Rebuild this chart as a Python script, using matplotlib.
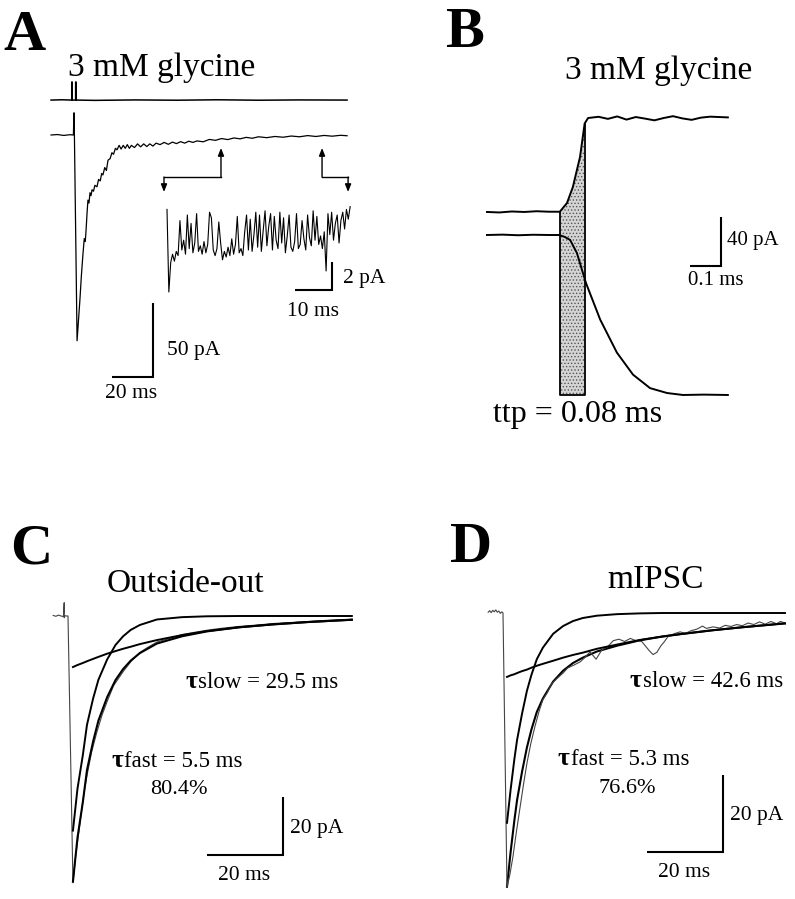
import numpy as np
import matplotlib
matplotlib.use('Agg')
import matplotlib.pyplot as plt

plt.rcParams['font.family'] = ['Liberation Serif', 'DejaVu Serif']
plt.rcParams['hatch.linewidth'] = 0.6

# ---- panel A: 3 mM glycine, outside-out patch (ms, pA) ----
ta_ex = [-11.2, -6.0, -1.1, -1.1, -0.9, -0.9, 0.8, 0.8, 1.0, 1.0, 10, 30, 50, 70, 90, 110, 133.2]
ya_ex = [23.6, 23.8, 23.6, 35.8, 35.8, 23.6, 23.6, 35.8, 35.8, 23.6, 23.4, 23.7, 23.5, 23.8, 23.5, 23.7, 23.6]

ta = [-11.2, -8.0, -5.0, -2.0, -0.3, 0.0, 0.2, 1.5, 2.2, 2.9,
      3.6, 4.4, 5.0, 5.5, 5.9, 6.4, 6.8, 7.3, 7.8, 8.3,
      8.8, 9.5, 10.2, 11.2, 12.0, 12.8, 13.5, 14.1, 15.0, 15.8,
      16.6, 17.6, 18.5, 19.3, 20.2, 21.0, 22.0, 23.0, 24.0, 25.0,
      26.0, 27.0, 28.0, 29.5, 31.0, 32.5, 34.0, 35.5, 37.0, 38.5,
      40.0, 42.0, 44.0, 46.0, 48.0, 50.0, 52.0, 54.0, 56.0, 58.0,
      60.0, 63.0, 66.0, 69.0, 72.0, 75.0, 78.0, 81.0, 84.0, 87.0,
      90.0, 94.0, 98.0, 102, 106, 110, 114, 118, 122, 126,
      130, 133.2]
ia = [0, 0.3, -0.3, 0.2, 0, 15, 0, -139, -125, -111,
      -95, -80, -70, -72, -64, -52, -44, -46, -39, -41,
      -37, -38, -34, -35, -30, -31, -26, -27, -22, -24,
      -17, -16, -12, -13, -9, -10, -7, -9.5, -7, -9,
      -6.5, -9, -7, -8.5, -6, -8, -6, -7.8, -6, -7.5,
      -5.5, -6.5, -5, -6.3, -4.8, -5.8, -4.5, -5.5, -4.2, -5,
      -4, -4.6, -3, -3.6, -2.4, -3.1, -2, -2.6, -1.6, -2.2,
      -1.2, -1.8, -1, -1.5, -0.7, -1.2, -0.4, -1, -0.3, -0.8,
      -0.2, -0.5]

# inset: single channel openings in the tail, sampled every 0.5 ms
inset_dt = 0.5
inset_i = [3.4, -2.5, -0.4, 0.2, -0.3, 0.4, 0.1, 2.6, 0.5, 1.2,
           0.2, 3.0, 0.6, 2.4, 0.3, 1.0, 3.1, 0.4, 0.8, 0.2,
           1.1, 0.3, 0.9, 3.2, 2.8, 0.5, 0.1, 0.6, 2.5, 1.0,
           -0.2, 0.4, 0.0, 0.7, 0.1, 1.3, 0.2, 0.9, 2.9, 0.3,
           0.6, 0.1, 1.8, 3.0, 0.5, 2.7, 0.4, 1.6, 3.2, 0.7,
           3.0, 0.4, 1.9, 3.3, 0.8, 2.2, 3.1, 0.5, 2.9, 1.2,
           0.6, 3.2, 1.0, 2.8, 0.3, 1.5, 3.0, 0.7, 0.4, 1.1,
           3.1, 0.6, 0.9, 2.6, 1.3, 0.5, 3.0, 1.4, 0.8, 3.3,
           1.2, 2.9, 0.9, 1.5, 0.6, 1.8, -1.0, 3.1, 1.6, 3.2,
           1.2, 2.4, 3.0, 1.0, 2.6, 3.2, 2.0, 3.4, 2.7, 3.6]
inset_from, inset_to = 71.7, 121.0   # ms in main trace marked by arrows

# ---- panel B: fast application, rise time (ms, pA) ----
tb_ex = [0, 0.04, 0.08, 0.12, 0.16, 0.20, 0.235, 0.258, 0.277, 0.300, 0.315, 0.326,
         0.36, 0.39, 0.42, 0.45, 0.48, 0.51, 0.54, 0.57, 0.60, 0.63, 0.66, 0.69, 0.72, 0.777]
yb_ex = [18.8, 18.4, 19.2, 18.8, 19.4, 19.0, 19.0, 26.1, 39.2, 63.6, 91.0, 95.5,
         96.5, 94.8, 96.8, 94.2, 96.3, 95.0, 93.6, 95.5, 97.0, 95.2, 94.0, 95.8, 96.6, 96.0]
tb = [0, 0.05, 0.10, 0.15, 0.20, 0.232, 0.25, 0.268, 0.290, 0.319, 0.365, 0.419,
      0.471, 0.526, 0.581, 0.632, 0.70, 0.777]
ib = [0, 0.3, -0.2, 0.2, 0.0, 0, -1.5, -4, -14.7, -39, -69, -96,
      -114, -125, -129, -130.6, -130.3, -130.6]
ttp_start, ttp = 0.235, 0.08

# ---- panel C: outside-out, biexponential fit ----
tc_raw = [-3.9, -3.2, -2.5, -1.8, -1.2, -1.0, -1.0, -0.8, -0.4, 0.0, 0.4, 1.3, 2.0, 3.2, 4.2,
          5.0, 6.2, 7.6, 9.0, 10.3, 12.0, 14.5, 16.5, 18.9, 21.0, 23.4, 27, 30, 33, 36.6,
          40, 45, 50, 53.9, 58, 63, 68, 74.7]
ic_raw = [0.2, -0.1, 0.3, 0.0, -0.2, 4.6, -0.6, 0.1, 0.0, 0.0, -28, -92, -83, -71, -61,
          -55, -47, -40, -34, -29.5, -24, -19.2, -15.8, -12.6, -10.8, -9.0, -7.6, -6.4, -5.7, -4.9,
          -4.3, -3.6, -3.1, -2.6, -2.3, -1.9, -1.5, -1.1]
tc_fit = [1.3, 2.5, 3.9, 5.0, 6.6, 8.0, 10.3, 12.5, 14.5, 16.5, 18.9, 23.4, 30, 36.6, 45, 53.9, 63, 74.7]
fast_c = [-74.0, -59.5, -48.0, -37.5, -28.5, -22.0, -15.0, -10.0, -7.0, -4.8, -3.1, -1.2, -0.4, -0.1, 0, 0, 0, 0]
slow_c = [-17.6, -16.9, -16.2, -15.6, -14.8, -14.1, -13.0, -12.1, -11.3, -10.6, -9.7, -8.3, -6.6, -5.2,
          -3.9, -2.9, -2.1, -1.3]

# ---- panel D: mIPSC, biexponential fit ----
td_raw = [-3.9, -3.5, -3.1, -2.7, -2.3, -1.9, -1.5, -1.1, -0.7, -0.3, 0.0,
          1.05, 1.8, 2.6, 3.5, 4.5, 5.4, 6.3, 7.3, 8.4, 9.5, 10.5, 11.6, 12.8, 14.0, 15.8,
          17.0, 18.5, 20.3, 21.5, 22.9, 24.5, 26.0, 27.5, 29.0, 30.5, 32.0, 33.5, 35.0, 36.5, 37.5,
          38.5, 39.5, 40.5, 41.5, 42.5, 43.5, 45.0, 46.6, 48.0, 49.5, 51.0, 52.5, 53.5, 55.3, 57.0,
          58.5, 60.0, 61.5, 63.0, 64.5, 66.0, 67.5, 69.0, 70.5, 72.0, 73.0, 74.2]
id_raw = [0.2, 0.6, 0.1, 0.7, 0.3, 0.8, 0.2, 0.5, -0.1, 0.3, 0.0,
          -71.2, -68, -63.4, -57, -50.4, -44.5, -39.0, -34, -29.5, -25.5, -22.5, -20.8, -18.4, -17.2, -15.6,
          -14.3, -13.6, -12.7, -11.6, -10.1, -12.0, -9.6, -8.8, -7.2, -6.8, -7.4, -6.6, -7.2, -7.4, -8.6,
          -9.8, -10.8, -10.2, -8.6, -7.4, -6.0, -5.4, -4.9, -5.3, -4.6, -4.2, -3.4, -4.0, -3.6, -3.9,
          -3.2, -3.5, -3.0, -3.3, -2.6, -3.0, -2.3, -2.9, -2.2, -2.8, -2.2, -2.6]
td_fit = [1.05, 2.0, 3.0, 3.7, 5.0, 6.3, 7.5, 8.9, 10.5, 13.2, 15.8, 18.4, 21.0, 24.7, 30, 36, 42, 46.6, 55, 63, 74.2]
fast_d = [-54.5, -45.9, -37.9, -33.0, -26.2, -20.2, -16.0, -12.0, -9.0, -5.4, -3.4, -2.1, -1.3, -0.7,
          -0.3, -0.1, 0, 0, 0, 0, 0]
slow_d = [-16.6, -16.2, -15.9, -15.6, -15.1, -14.7, -14.2, -13.7, -13.2, -12.4, -11.6, -10.9, -10.3, -9.3,
          -8.2, -7.0, -6.1, -5.5, -4.5, -3.7, -2.7]

W, H = 795, 899
fig = plt.figure(figsize=(W / 100, H / 100), dpi=100)


def make_ax(box, origin, sx, sy):
    # box in pixels (left, top, width, height); origin = pixel of data (0, 0); sx, sy = px per unit
    l, t, w, h = box
    ax = fig.add_axes([l / W, 1 - (t + h) / H, w / W, h / H])
    ox, oy = origin
    ax.set_xlim((l - ox) / sx, (l + w - ox) / sx)
    ax.set_ylim((oy - (t + h)) / sy, (oy - t) / sy)
    ax.axis('off')
    return ax


def scalebar(ax, x_end, y_end, dx, dy):
    ax.plot([x_end - dx, x_end, x_end], [y_end, y_end, y_end + dy], color='k', lw=1.5,
            solid_joinstyle='miter', solid_capstyle='butt')


def ftext(x, y, s, size, **kw):
    fig.text(x / W, 1 - y / H, s, fontsize=size, va='baseline', ha='left', **kw)


def tau_label(x, y, rest, size=16.5):
    ftext(x, y, 'τ', size + 2, fontweight='bold')
    ftext(x + 13, y, rest, size)


# panel A
axA = make_ax((40, 60, 360, 360), (74, 135), 2.05, 1.48)
axA.plot(ta_ex, ya_ex, color='k', lw=1.1)
axA.plot(ta, ia, color='k', lw=0.9)
scalebar(axA, 38.5, -163.5, 20, 50)
arrow = dict(arrowstyle='-|>,head_width=0.18,head_length=0.45', color='k', lw=1.0, shrinkA=0, shrinkB=0)
axA.annotate('', xy=(inset_from, -8.8), xytext=(inset_from, -28.4), arrowprops=arrow)
axA.plot([inset_from, 43.9], [-28.4, -28.4], color='k', lw=1.0)
axA.annotate('', xy=(43.9, -38.5), xytext=(43.9, -28.4), arrowprops=arrow)
axA.annotate('', xy=(inset_to, -8.8), xytext=(inset_to, -28.4), arrowprops=arrow)
axA.plot([inset_to, 133.7], [-28.4, -28.4], color='k', lw=1.0)
axA.annotate('', xy=(133.7, -38.5), xytext=(133.7, -28.4), arrowprops=arrow)

axI = make_ax((160, 195, 200, 110), (167, 257), 3.7, 14)
axI.plot(np.arange(len(inset_i)) * inset_dt, inset_i, color='k', lw=0.8)
scalebar(axI, 44.6, -2.36, 10, 2)

ftext(3, 50, 'A', 42, fontweight='bold')
ftext(68, 76, '3 mM glycine', 24)
ftext(167, 355, '50 pA', 15.5)
ftext(105, 398, '20 ms', 15.5)
ftext(343, 283, '2 pA', 15.5)
ftext(287, 316, '10 ms', 15.5)

# panel B
axB = make_ax((470, 90, 320, 340), (487, 235), 310, 1.225)
tb_ex_a = np.array(tb_ex)
yb_ex_a = np.array(yb_ex)
m = (tb_ex_a >= ttp_start - 1e-9) & (tb_ex_a <= ttp_start + ttp + 1e-9)
axB.fill_between(tb_ex_a[m], yb_ex_a[m], -130.6, facecolor='#d4d4d4', edgecolor='#555555',
                 hatch='.....', linewidth=0)
axB.plot([ttp_start, ttp_start, ttp_start + ttp, ttp_start + ttp],
         [yb_ex_a[m][0], -130.6, -130.6, yb_ex_a[m][-1]], color='k', lw=1.3)
axB.plot(tb_ex, yb_ex, color='k', lw=1.4)
axB.plot(tb, ib, color='k', lw=1.4)
scalebar(axB, 0.755, -25.3, 0.1, 40)

ftext(445, 47, 'B', 42, fontweight='bold')
ftext(565, 79, '3 mM glycine', 24)
ftext(727, 245, '40 pA', 15)
ftext(688, 285, '0.1 ms', 15)
ftext(493, 422, 'ttp = 0.08 ms', 23)

# panel C
axC = make_ax((40, 590, 330, 300), (68, 616), 3.8, 2.9)
axC.plot(tc_raw, ic_raw, color='#444444', lw=0.8)
axC.plot(tc_fit, np.add(fast_c, slow_c), color='k', lw=1.5)
axC.plot(tc_fit, fast_c, color='k', lw=1.4)
axC.plot(tc_fit, slow_c, color='k', lw=1.4)
scalebar(axC, 56.6, -82.4, 20, 20)

ftext(10, 563, 'C', 42, fontweight='bold')
ftext(107, 592, 'Outside-out', 24)
tau_label(185, 688, 'slow = 29.5 ms')
tau_label(111, 767, 'fast = 5.5 ms')
ftext(150, 794, '80.4%', 16)
ftext(290, 833, '20 pA', 15.5)
ftext(218, 880, '20 ms', 15.5)

# panel D
axD = make_ax((470, 590, 325, 300), (503, 613), 3.8, 3.85)
axD.plot(td_fit, np.add(fast_d, slow_d), color='k', lw=1.5)
axD.plot(td_raw, id_raw, color='#444444', lw=0.8)
axD.plot(td_fit, fast_d, color='k', lw=1.4)
axD.plot(td_fit, slow_d, color='k', lw=1.4)
scalebar(axD, 57.9, -62.1, 20, 20)

ftext(450, 562, 'D', 42, fontweight='bold')
ftext(607, 588, 'mIPSC', 24)
tau_label(630, 687, 'slow = 42.6 ms')
tau_label(558, 765, 'fast = 5.3 ms')
ftext(599, 793, '76.6%', 16)
ftext(730, 820, '20 pA', 15.5)
ftext(658, 877, '20 ms', 15.5)

fig.savefig('out.png', dpi=100)
